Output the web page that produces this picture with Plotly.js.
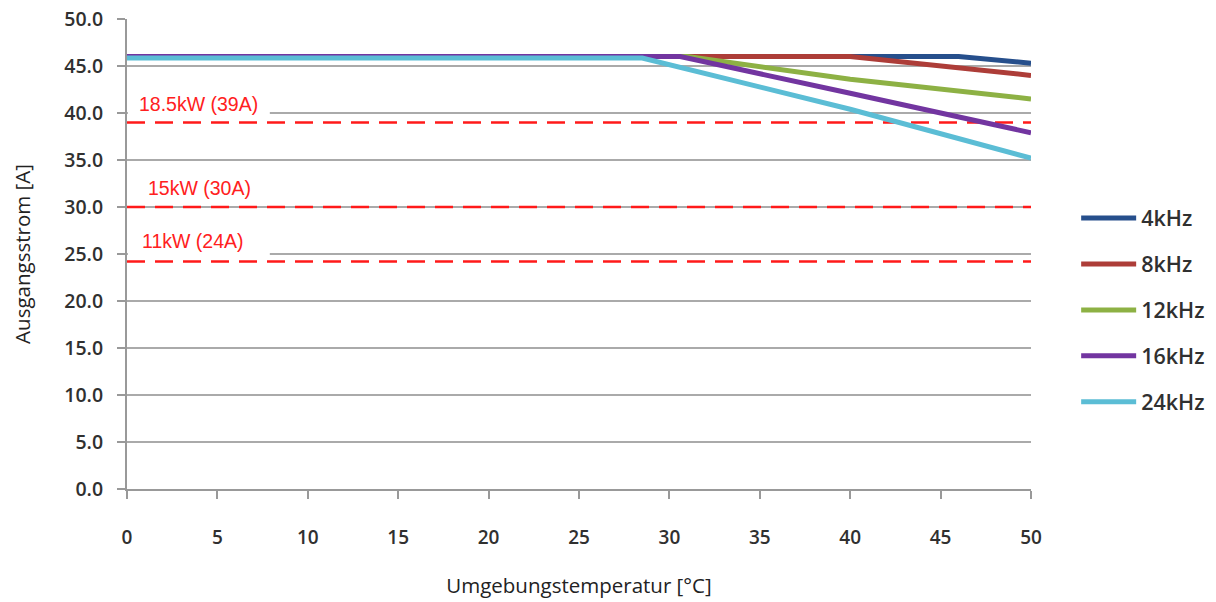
<!DOCTYPE html>
<html><head><meta charset="utf-8">
<script src="https://cdn.plot.ly/plotly-3.0.1.min.js"></script>
<style>body{margin:0;background:#fff}</style>
</head><body>
<div id="chart" style="width:1216px;height:602px"></div>
<script>
// Series (temperature °C -> current A)
const seriesNames = ["4kHz", "8kHz", "12kHz", "16kHz", "24kHz"];
const x4 = [0, 46, 50];          const y4 = [46.0, 46.0, 45.3];
const x8 = [0, 40, 50];          const y8 = [46.0, 46.0, 44.0];
const x12 = [0, 31, 40, 50];     const y12 = [46.0, 46.0, 43.6, 41.5];
const x16 = [0, 30.6, 40, 50];   const y16 = [46.0, 46.0, 42.1, 37.9];
const x24 = [0, 28.5, 40, 50];   const y24 = [45.85, 45.85, 40.4, 35.2];
const seriesColors = ["#264f8c", "#ad3d38", "#8db144", "#7235a0", "#5bbdd5"];

// Reference (power limit) lines
const refLabels = ["18.5kW (39A)", "15kW (30A)", "11kW (24A)"];
const refValues = [39.0, 30.0, 24.2];
const refLabelX = [0.55, 1.05, 0.7];
const refLabelY = [41.0, 32.0, 26.4];

const yTicks = [0, 5, 10, 15, 20, 25, 30, 35, 40, 45, 50];
const xTicks = [0, 5, 10, 15, 20, 25, 30, 35, 40, 45, 50];

const xs = [x4, x8, x12, x16, x24];
const ys = [y4, y8, y12, y16, y24];

const traces = [];
refValues.forEach((v) => {
  traces.push({
    x: [0, 50], y: [v, v], mode: "lines", showlegend: false, hoverinfo: "skip",
    line: {color: "#ff1a1a", width: 2.5, dash: "18px,10px"}
  });
});
seriesNames.forEach((n, i) => {
  traces.push({
    x: xs[i], y: ys[i], name: n, mode: "lines", legendgroup: n,
    line: {color: seriesColors[i], width: 5}
  });
});

const annotations = refLabels.map((t, i) => ({
  x: refLabelX[i], y: refLabelY[i], xref: "x", yref: "y", text: t,
  showarrow: false, xanchor: "left", yanchor: "middle",
  font: {family: "Liberation Sans, Arial", size: 19.5, color: "#ff2020"}
}));

// white label boxes hiding the gridlines behind the labels (as in the source chart)
const shapes = refLabels.map((t, i) => ({
  type: "rect", layer: "between", xref: "x", yref: "y",
  x0: 0.05, x1: 7.9, y0: refValues[i] + 0.45, y1: refLabelY[i] + 1.5,
  fillcolor: "#fff", line: {width: 0}
}));

const layout = {
  width: 1216, height: 602,
  margin: {l: 127, r: 185, t: 19, b: 113},
  paper_bgcolor: "#fff", plot_bgcolor: "#fff",
  showlegend: true,
  legend: {
    xref: "container", yref: "container",
    x: 0.885, xanchor: "left", y: 0.485, yanchor: "middle",
    traceorder: "grouped", tracegroupgap: 15,
    font: {family: "Open Sans", size: 21.5, color: "#303030", weight: 600},
    itemwidth: 55, bgcolor: "rgba(0,0,0,0)"
  },
  xaxis: {
    range: [0, 50], tickvals: xTicks, ticktext: xTicks.map(String),
    showgrid: false, zeroline: false, showline: true, linecolor: "#999", linewidth: 2,
    ticks: "outside", ticklen: 8, tickwidth: 2, tickcolor: "#999",
    ticklabelstandoff: 22,
    tickfont: {family: "Open Sans", size: 19, color: "#303030", weight: 600},
    title: {text: "Umgebungstemperatur [°C]", standoff: 30,
            font: {family: "Open Sans", size: 20.5, color: "#222"}}
  },
  yaxis: {
    range: [0, 50], tickvals: yTicks, ticktext: yTicks.map(v => v.toFixed(1)),
    showgrid: true, gridcolor: "#aaa", gridwidth: 2,
    zeroline: false, showline: true, linecolor: "#999", linewidth: 2,
    ticks: "outside", ticklen: 8, tickwidth: 2, tickcolor: "#999",
    ticklabelstandoff: 10,
    tickfont: {family: "Open Sans", size: 19.5, color: "#303030", weight: 600},
    title: {text: "Ausgangsstrom [A]", standoff: 28,
            font: {family: "Open Sans", size: 20.5, color: "#222"}}
  },
  shapes: shapes,
  annotations: annotations
};

Plotly.newPlot("chart", traces, layout, {displayModeBar: false, staticPlot: true});
</script>
</body></html>
